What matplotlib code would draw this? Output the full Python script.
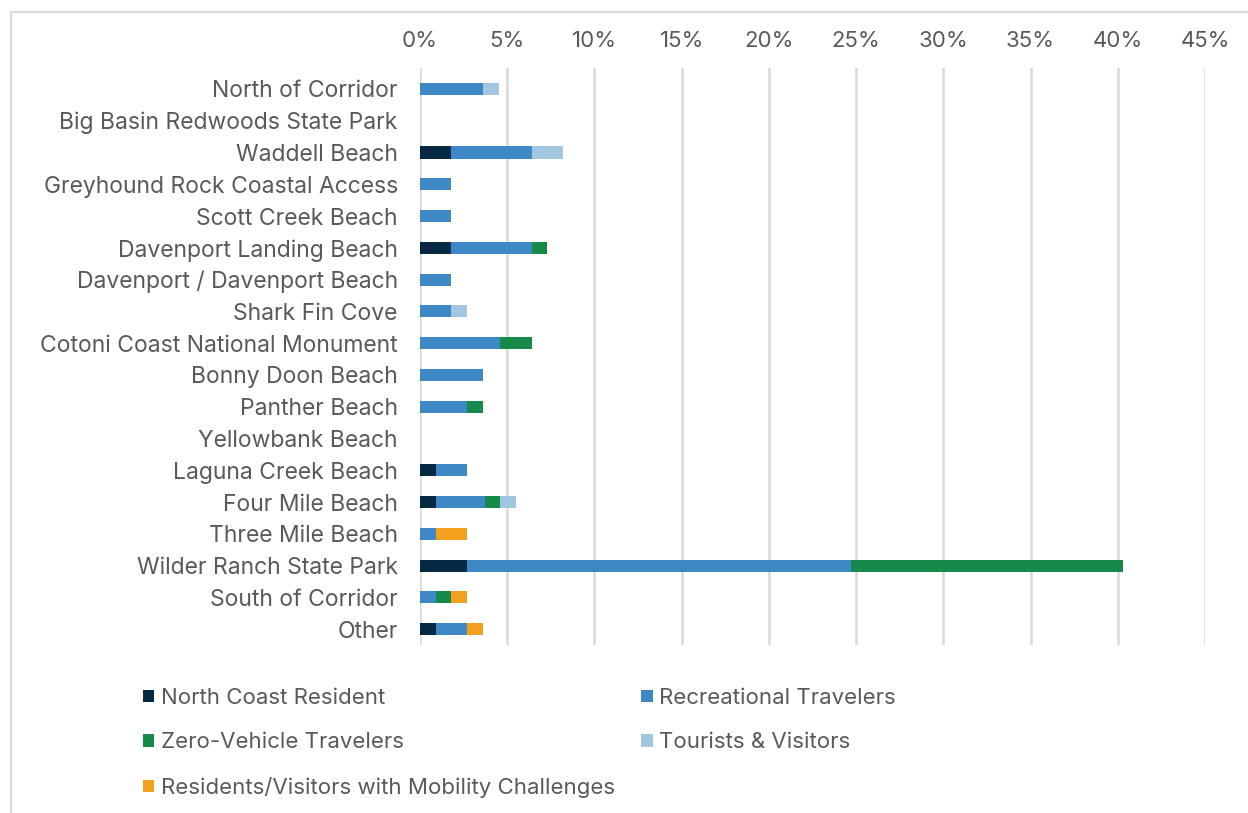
import numpy as np
import matplotlib.pyplot as plt
from matplotlib.lines import Line2D
from matplotlib.patches import Patch

plt.rcParams['font.family'] = ['Inter', 'DejaVu Sans']

locations = ['North of Corridor', 'Big Basin Redwoods State Park', 'Waddell Beach',
             'Greyhound Rock Coastal Access', 'Scott Creek Beach', 'Davenport Landing Beach',
             'Davenport / Davenport Beach', 'Shark Fin Cove', 'Cotoni Coast National Monument',
             'Bonny Doon Beach', 'Panther Beach', 'Yellowbank Beach', 'Laguna Creek Beach',
             'Four Mile Beach', 'Three Mile Beach', 'Wilder Ranch State Park',
             'South of Corridor', 'Other']

# share of respondents (%) by rider group
north_coast = [0, 0, 1.8, 0, 0, 1.8, 0, 0, 0, 0, 0, 0, 0.9, 0.9, 0, 2.7, 0, 0.9]
recreational = [3.6, 0, 4.6, 1.8, 1.8, 4.6, 1.8, 1.8, 4.6, 3.6, 2.7, 0, 1.8, 2.8, 0.9, 22.0, 0.9, 1.8]
zero_vehicle = [0, 0, 0, 0, 0, 0.9, 0, 0, 1.8, 0, 0.9, 0, 0, 0.9, 0, 15.6, 0.9, 0]
tourists = [0.9, 0, 1.8, 0, 0, 0, 0, 0.9, 0, 0, 0, 0, 0, 0.9, 0, 0, 0, 0]
mobility = [0, 0, 0, 0, 0, 0, 0, 0, 0, 0, 0, 0, 0, 0, 1.8, 0, 0.9, 0.9]

groups = ['North Coast Resident', 'Recreational Travelers', 'Zero-Vehicle Travelers',
          'Tourists & Visitors', 'Residents/Visitors with Mobility Challenges']
colors = ['#062a44', '#3e88c6', '#158a4a', '#a0c6e0', '#f59f1f']
series = [north_coast, recreational, zero_vehicle, tourists, mobility]

txt = '#595959'
grid = '#d9d9d9'
fs = 16

fig = plt.figure(figsize=(12.48, 8.13), dpi=100)
ax = fig.add_axes([420 / 1248, 1 - 645 / 813, 785 / 1248, 577 / 813])

y = np.arange(len(locations))
left = np.zeros(len(locations))
for vals, col in zip(series, colors):
    vals = np.array(vals)
    ax.barh(y, vals, left=left, height=0.38, color=col, edgecolor='none', zorder=3)
    left += vals

ax.set_xlim(0, 45)
ax.set_ylim(17.5, -0.66)
ax.set_xticks(np.arange(0, 46, 5))
ax.set_xticklabels([f'{v}%' for v in range(0, 46, 5)])
ax.set_yticks(y)
ax.set_yticklabels(locations, fontsize=16.5)
ax.xaxis.tick_top()
ax.tick_params(axis='x', length=0, pad=12, labelsize=fs, labelcolor=txt)
ax.tick_params(axis='y', length=0, pad=16, labelcolor=txt)
ax.grid(axis='x', color=grid, linewidth=1.8, zorder=0)
for s in ax.spines.values():
    s.set_visible(False)

handles = [Patch(facecolor=c, edgecolor='none') for c in colors]
order = [0, 2, 4, 1, 3]
fig.legend([handles[i] for i in order], [groups[i] for i in order],
           loc='upper left', bbox_to_anchor=(134 / 1248, 1 - 679 / 813), ncol=2,
           frameon=False, fontsize=fs, labelcolor=txt,
           handlelength=0.5, handleheight=0.5, handletextpad=0.3,
           columnspacing=1.2, labelspacing=1.1, borderaxespad=0)

# light outer frame
fig.add_artist(Line2D([11 / 1248, 1], [1 - 12 / 813, 1 - 12 / 813], color=grid, linewidth=1.5))
fig.add_artist(Line2D([11 / 1248, 11 / 1248], [0, 1 - 12 / 813], color=grid, linewidth=1.5))

fig.savefig('out.png', dpi=100)
